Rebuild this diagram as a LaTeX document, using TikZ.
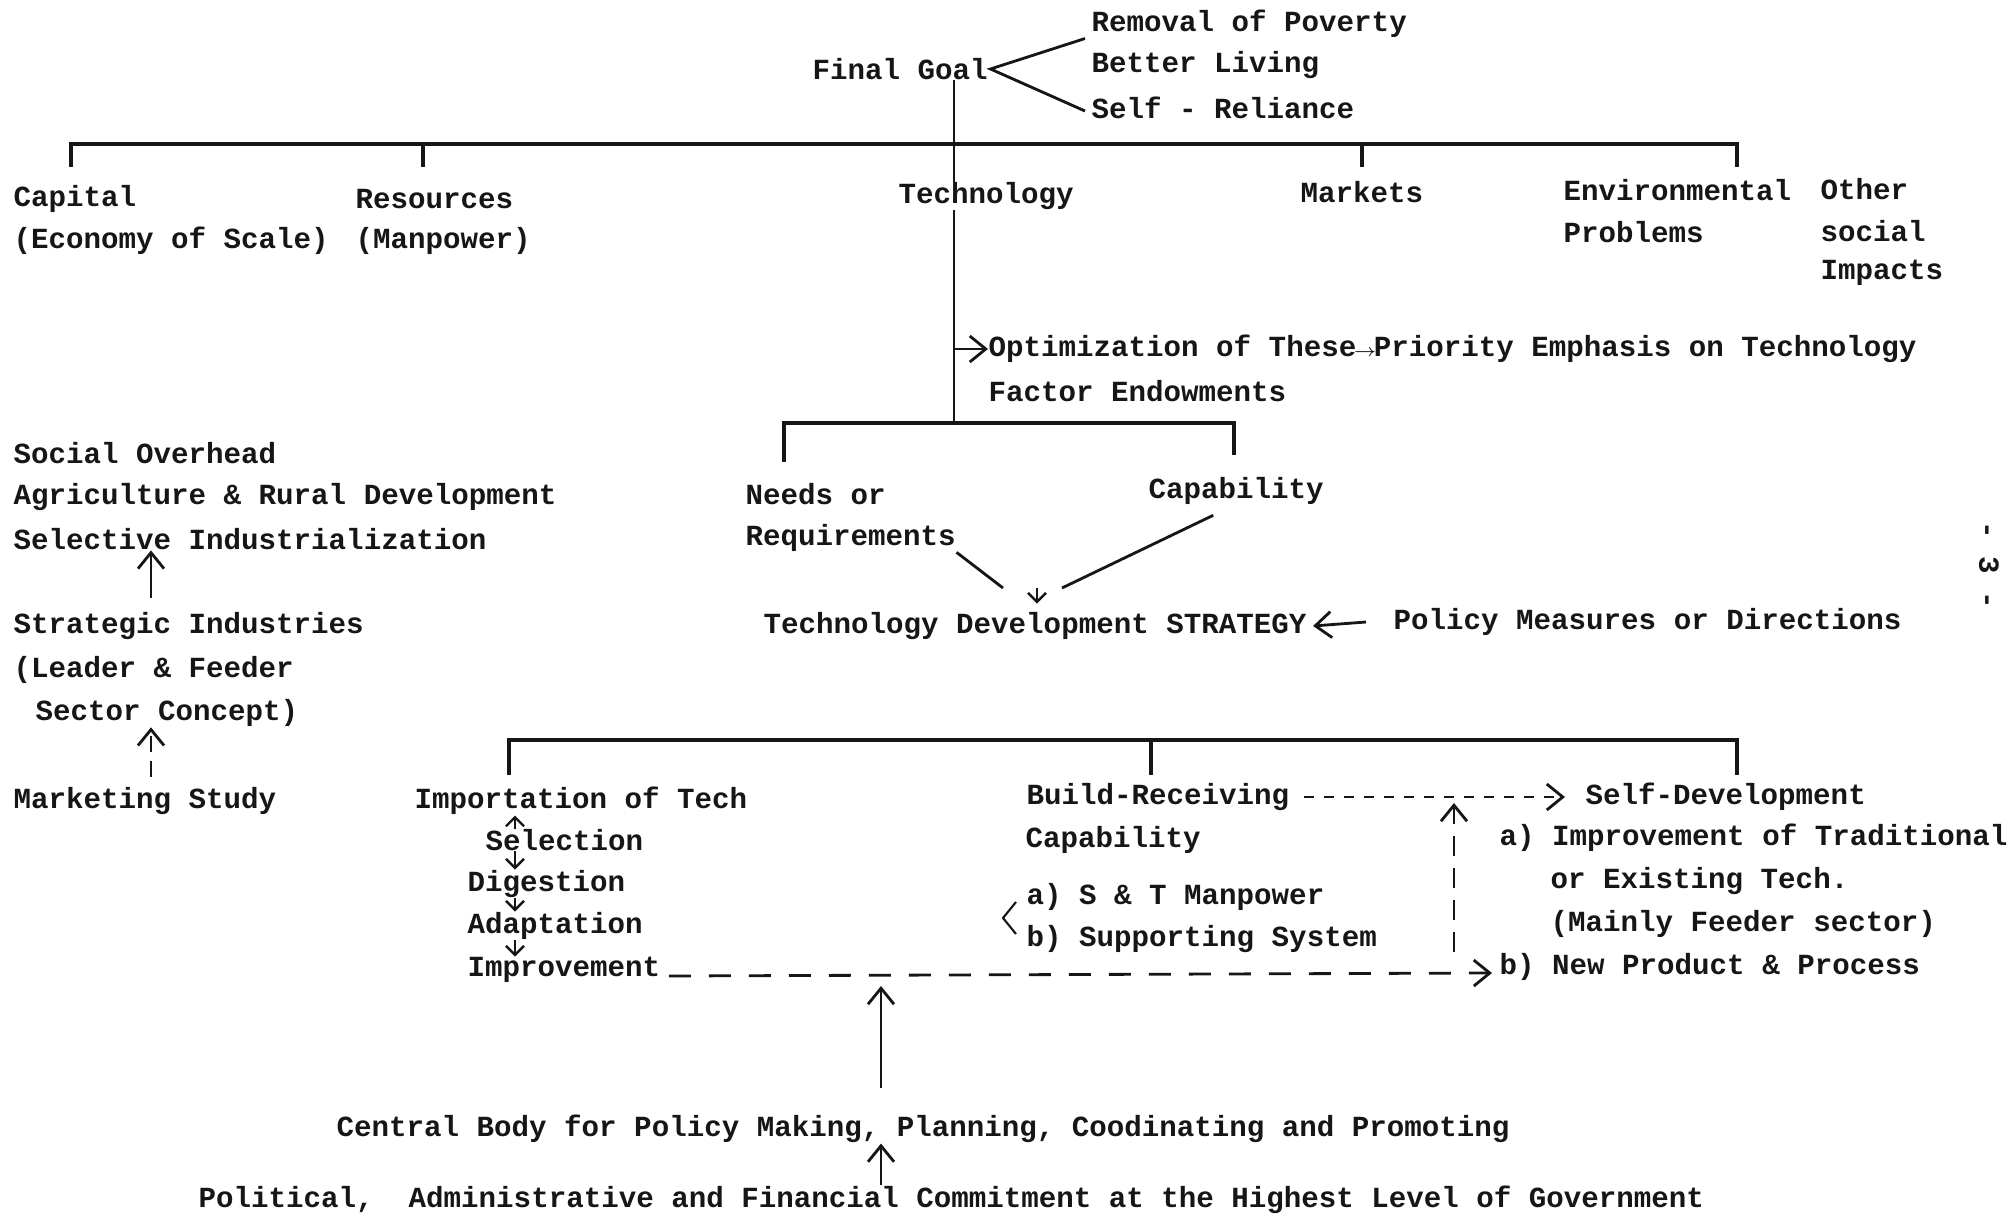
\documentclass[tikz,border=0pt]{standalone}
\usepackage{fontspec}
\setmonofont{Liberation Mono}
\usetikzlibrary{arrows.meta,positioning}
\definecolor{ink}{RGB}{22,22,22}
\tikzset{
  lbl/.style={font=\ttfamily\bfseries\fontsize{8.3}{10}\selectfont,text=ink,
              inner sep=0pt,anchor=west},
  ln/.style={line width=0.8pt,ink},
  bar/.style={line width=1.1pt,ink},
  arr/.style={-{Straight Barb[length=1.6mm,width=2.6mm]},line width=0.8pt,ink},
  sarr/.style={-{Straight Barb[length=0.9mm,width=1.8mm]},line width=0.7pt,ink}
}

\begin{document}
\begin{tikzpicture}[x=0.1mm,y=-0.1mm]
  \useasboundingbox (0,0) rectangle (2012,1226);
  \node[lbl] (goal) at (812,69) {Final Goal};
  \node[lbl] (pov) at (1091,24) {Removal of Poverty};
  \node[lbl] (liv) at (1091,65) {Better Living};
  \node[lbl] (rel) at (1091,108) {Self - Reliance};
  \draw[ln] ([xshift=-0.6mm]pov.south west) -- ([xshift=0.2mm]goal.east)
            -- ([xshift=-0.6mm,yshift=-0.3mm]rel.west);
  \coordinate (top) at (954,144);
  \coordinate (barL) at (71,144);
  \coordinate (barR) at (1737,144);
  \node[lbl] (cap1) at (13,199) {Capital};
  \node[lbl] (cap2) at (13,241) {(Economy of Scale)};
  \node[lbl] (res1) at (355,199) {Resources};
  \node[lbl] (res2) at (355,241) {(Manpower)};
  \node[lbl] (tech) at (898,196) {Technology};
  \node[lbl] (mkt) at (1300,192) {Markets};
  \node[lbl] (env1) at (1563,190) {Environmental};
  \node[lbl] (env2) at (1563,232) {Problems};
  \node[lbl] (oth1) at (1820,189) {Other};
  \node[lbl] (oth2) at (1820,231) {social};
  \node[lbl] (oth3) at (1820,273) {Impacts};
  \draw[bar] (barL) ++(0,23) -- (barL) -- (barR) -- ++(0,23);
  \coordinate (resd) at (423,144);
  \draw[bar] (resd) -- ++(0,23);
  \draw[bar] (mkt.north |- top) -- ++(0,23);
  \draw[ln] (goal.south -| top) -- (top |- tech.north);
  \coordinate (fork) at (954,423);
  \draw[ln] (top |- tech.south) -- (fork);
  \node[lbl] (opt) at (988,349) {Optimization of These\makebox[0.6em]{\tiny$\rightarrow$}Priority Emphasis on Technology};
  \node[lbl] (fac) at (988,391) {Factor Endowments};
  \draw[arr] (top |- opt.west) -- (opt.west);
  \coordinate (nl) at (784,423);
  \coordinate (nr) at (1234,423);
  \draw[bar] (nl) ++(0,39) -- (nl) -- (nr) -- ++(0,32);
  \node[lbl] (need1) at (745,494) {Needs or};
  \node[lbl] (need2) at (745,538) {Requirements};
  \node[lbl] (capb) at (1148,491) {Capability};
  \node[lbl] (strat) at (763,626) {Technology Development STRATEGY};
  \node[lbl] (polm) at (1393,622) {Policy Measures or Directions};
  \coordinate (meet) at (1037,588);
  \draw[ln] (need2.south east) -- ([xshift=-3.4mm]meet);
  \draw[ln] ([xshift=-2.3mm,yshift=-1mm]capb.south) -- ([xshift=2.5mm]meet);
  \draw[sarr] (meet) -- ([yshift=0.8mm]meet |- strat.north);
  \draw[arr] ([xshift=-2.7mm]polm.west) -- ([xshift=0.6mm]strat.east);
  \node[lbl] (so1) at (13,453) {Social Overhead};
  \node[lbl] (so2) at (13,497) {Agriculture \& Rural Development};
  \node[lbl] (so3) at (13,539) {Selective Industrialization};
  \node[lbl] (si1) at (13,626) {Strategic Industries};
  \node[lbl] (si2) at (13,670) {(Leader \& Feeder};
  \node[lbl] (si3) at (35,713) {Sector Concept)};
  \node[lbl] (mk) at (13,801) {Marketing Study};
  \coordinate (colL) at (151,0);
  \draw[arr,shorten <=1.4mm] (si1.north -| colL) -- (so3.south -| colL);
  \draw[arr,dash pattern=on 1.6mm off 0.9mm,shorten <=1mm] (mk.north -| colL) -- (si3.south -| colL);
  \coordinate (ml) at (509,740);
  \coordinate (mm) at (1151,740);
  \coordinate (mr) at (1737,740);
  \draw[bar] (ml) ++(0,35) -- (ml) -- (mr) -- ++(0,35);
  \draw[bar] (mm) -- ++(0,35);
  \node[lbl] (imp) at (414,801) {Importation of Tech};
  \node[lbl] (sel) at (485,840) {Selection};
  \node[lbl] (dig) at (467,884) {Digestion};
  \node[lbl] (ada) at (467,926) {Adaptation};
  \node[lbl] (impr) at (467,970) {Improvement};
  \coordinate (ic) at (515,0);
  \draw[sarr] (sel.north -| ic) -- (imp.south -| ic);
  \draw[sarr] (sel.south -| ic) -- (dig.north -| ic);
  \draw[sarr] (dig.south -| ic) -- (ada.north -| ic);
  \draw[sarr] (ada.south -| ic) -- (impr.north -| ic);
  \node[lbl] (br1) at (1026,797) {Build-Receiving};
  \node[lbl] (br2) at (1025,840) {Capability};
  \node[lbl] (sa) at (1026,897) {a) S \& T Manpower};
  \node[lbl] (sb) at (1026,939) {b) Supporting System};
  \coordinate (apex) at (1003,918);
  \draw[ln,line width=0.6pt] ([xshift=-1mm,yshift=-0.5mm]sa.west) -- (apex)
            -- ([xshift=-1mm,yshift=0.5mm]sb.west);
  \node[lbl] (sd) at (1585,797) {Self-Development};
  \node[lbl] (sda) at (1499,838) {a) Improvement of Traditional};
  \node[lbl] (sdb) at (1550,881) {or Existing Tech.};
  \node[lbl] (sdc) at (1550,924) {(Mainly Feeder sector)};
  \node[lbl] (sdd) at (1499,967) {b) New Product \& Process};
  \draw[arr,dash pattern=on 1mm off 1mm] ([xshift=1.4mm]br1.east) -- ([xshift=-2mm]sd.west);
  \coordinate (vd) at (1454,952);
  \coordinate (vdtip) at (1454,803);
  \draw[arr,dash pattern=on 2mm off 1.2mm] (vd) -- (vdtip);
  \draw[arr,dash pattern=on 2.2mm off 1.8mm] ([xshift=0.8mm,yshift=-0.6mm]impr.east)
            -- ([xshift=-0.7mm,yshift=-0.6mm]sdd.west);
  \node[lbl] (cb) at (336,1129) {Central Body for Policy Making, Planning, Coodinating and Promoting};
  \node[lbl] (polc) at (198,1200) {Political,\ \ Administrative and Financial Commitment at the Highest Level of Government};
  \coordinate (stem) at (881,1088);
  \coordinate (stemtip) at (881,986);
  \draw[arr] (stem) -- (stemtip);
  \draw[arr] (polc.north -| stem) -- (cb.south -| stem);
  \node[lbl,rotate=-90,anchor=center] (pg) at (1989,565) {- 3 -};
\end{tikzpicture}
\end{document}
